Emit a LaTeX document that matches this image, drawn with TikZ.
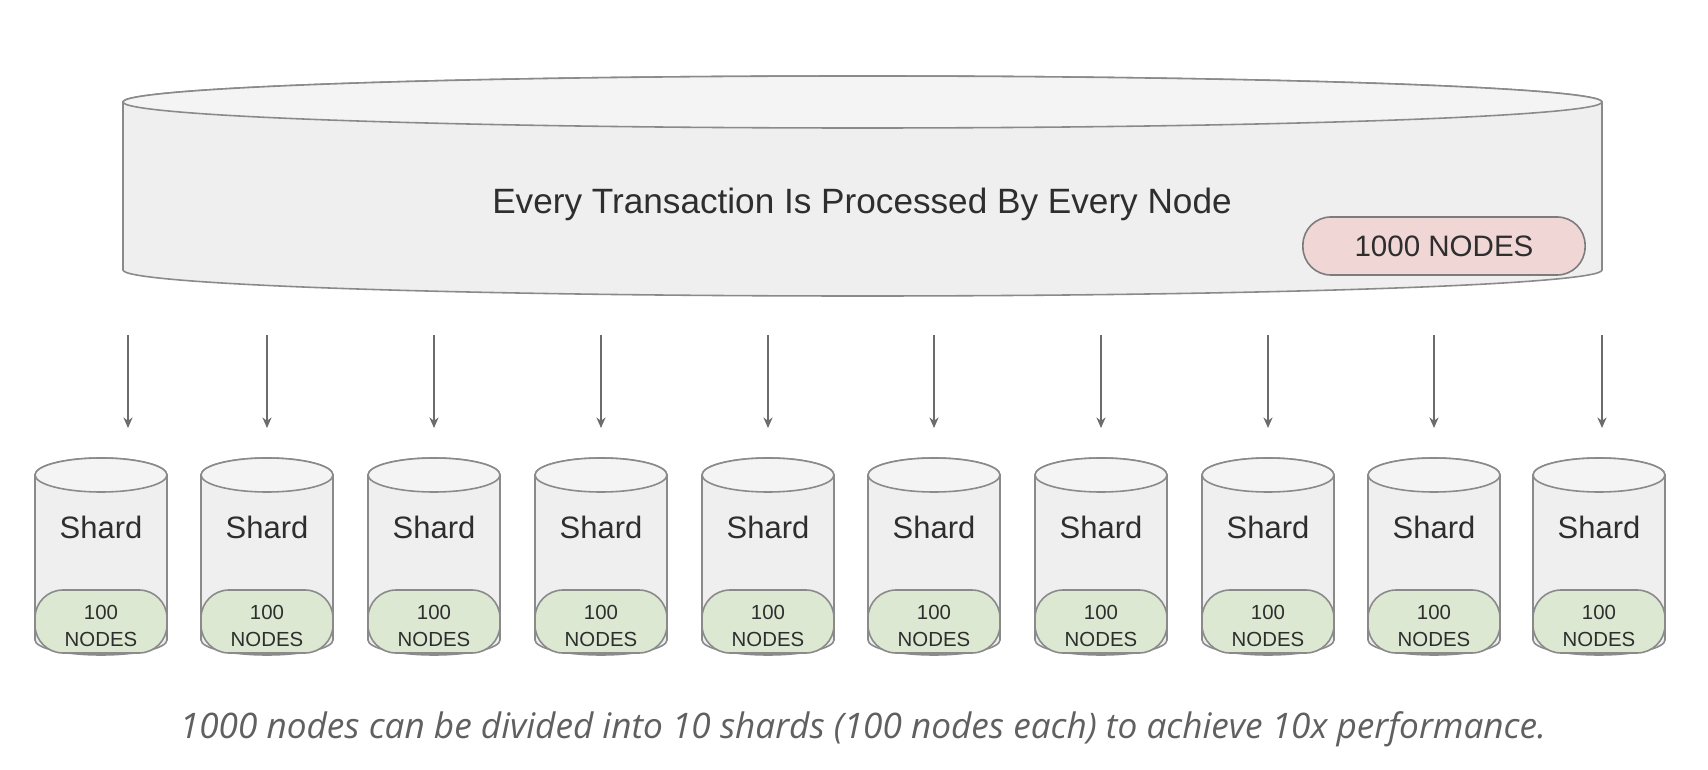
\documentclass[tikz,border=0pt]{standalone}
\usepackage{fontspec}
\setmainfont{Liberation Sans}
\newfontfamily\capfont{Open Sans}
\usetikzlibrary{arrows.meta,positioning}
\definecolor{cylline}{HTML}{8A8A8A}
\definecolor{cylfill}{HTML}{EFEFEF}
\definecolor{topfill}{HTML}{F4F4F4}
\definecolor{pinkfill}{HTML}{F0D6D5}
\definecolor{greenfill}{HTML}{DCE8D2}
\definecolor{txt}{HTML}{2E2E2E}
\tikzset{
  cyl/.style={draw=cylline, fill=cylfill, line width=0.45pt},
  cyltop/.style={draw=cylline, fill=topfill, line width=0.45pt},
  bigpill/.style={draw=cylline!90!black, fill=pinkfill, line width=0.45pt, rounded corners=0.28cm,
    minimum width=2.82cm, minimum height=0.58cm, text=txt, font=\fontsize{8.4}{10}\selectfont},
  shardpill/.style={draw=cylline, fill=greenfill, line width=0.45pt, rounded corners=0.28cm},
  pilltext/.style={inner sep=0pt, align=center, text=txt, font=\fontsize{5.8}{7.7}\selectfont},
  shardlabel/.style={text=txt, font=\fontsize{8.8}{10}\selectfont},
  flow/.style={draw=gray!85!black, line width=0.45pt, -{Stealth[length=3pt,width=2.6pt]}}
}
\begin{document}
\begin{tikzpicture}[x=0.01cm,y=0.01cm]
\useasboundingbox[fill=white] (0,0) rectangle (1708,-770);
\path[cyl] (123,-102) -- (123,-270) arc[start angle=180,end angle=360,x radius=739.5,y radius=26]
  -- (1602,-102) arc[start angle=0,end angle=180,x radius=739.5,y radius=26] -- cycle;
\draw[cyltop] (862.5,-102) ellipse[x radius=739.5,y radius=26];
\node[text=txt, font=\fontsize{10}{12}\selectfont] (main) at (862,-204) {Every Transaction Is Processed By Every Node};
\node[bigpill] (all) at (1444,-246) {1000 NODES};
\foreach \cx/\ax [count=\i] in {101/128,267/267,434/434,601/601,768/768,934/934,1101/1101,1268/1268,1434/1434,1599/1602}{
  \path[cyl] (\cx-66,-475) -- (\cx-66,-640) arc[start angle=180,end angle=360,x radius=66,y radius=15]
    -- (\cx+66,-475) arc[start angle=0,end angle=180,x radius=66,y radius=17] -- cycle;
  \draw[cyltop] (\cx,-475) ellipse[x radius=66,y radius=17];
  \node[shardlabel] (s\i) at (\cx,-527) {Shard};
  \path[shardpill] (\cx-66,-590) rectangle (\cx+66,-653);
  \node[pilltext] (p\i) at (\cx,-626) {100\\NODES};
  \coordinate (t\i) at (\ax,-335);
  \coordinate (h\i) at (\ax,-428);
  \draw[flow] (t\i) -- (h\i);
}
\node[text=gray!75!black, font=\capfont\itshape\fontsize{10}{12}\selectfont] (cap) at (863,-729)
  {1000 nodes can be divided into 10 shards (100 nodes each) to achieve 10x performance.};
\end{tikzpicture}
\end{document}
